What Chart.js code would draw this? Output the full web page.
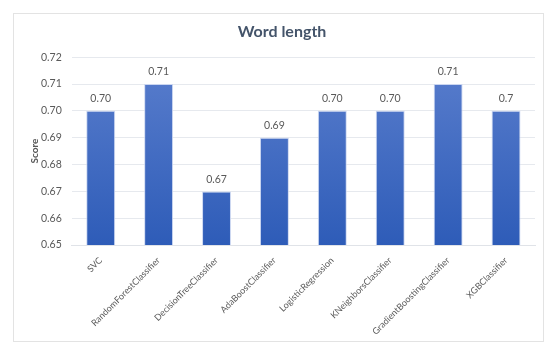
<!DOCTYPE html>
<html>
<head>
<meta charset="utf-8">
<script src="https://cdn.jsdelivr.net/npm/chart.js@4"></script>
<style>
  body { margin: 0; background: #fff; }
  #frame {
    position: absolute; left: 13px; top: 13px;
    width: 529px; height: 327px;
    border: 1px solid #e3e3e3; background: #fff;
  }
</style>
</head>
<body>
<div id="frame"><canvas id="myChart" width="529" height="327"></canvas></div>
<script>
// data
const models = ['SVC', 'RandomForestClassifier', 'DecisionTreeClassifier', 'AdaBoostClassifier',
  'LogisticRegression', 'KNeighborsClassifier', 'GradientBoostingClassifier', 'XGBClassifier'];
const scores = [0.70, 0.71, 0.67, 0.69, 0.70, 0.70, 0.71, 0.70];
const scoreLabels = ['0.70', '0.71', '0.67', '0.69', '0.70', '0.70', '0.71', '0.7'];

const textGray = '#595959';
const fontName = 'Lato, "Open Sans", sans-serif';

// labels above the bars
const barLabels = {
  id: 'barLabels',
  afterDatasetsDraw(chart) {
    const ctx = chart.ctx;
    const meta = chart.getDatasetMeta(0);
    ctx.save();
    ctx.fillStyle = textGray;
    ctx.font = '10.5px ' + fontName;
    ctx.textAlign = 'center';
    ctx.textBaseline = 'middle';
    meta.data.forEach((bar, i) => {
      ctx.fillText(scoreLabels[i], bar.x, bar.y - 12);
    });
    ctx.restore();
  }
};

const ctx = document.getElementById('myChart').getContext('2d');

const myChart = new Chart(ctx, {
  type: 'bar',
  data: {
    labels: models,
    datasets: [{
      label: 'Score',
      data: scores,
      backgroundColor: function(context) {
        const area = context.chart.chartArea;
        if (!area) return '#4472c4';
        const g = context.chart.ctx.createLinearGradient(0, area.top, 0, area.bottom);
        g.addColorStop(0, '#5a7ecd');
        g.addColorStop(1, '#2e5cb8');
        return g;
      },
      borderColor: 'rgba(200,212,240,0.9)',
      borderWidth: 1,
      categoryPercentage: 1,
      barPercentage: 0.5
    }]
  },
  plugins: [barLabels],
  options: {
    responsive: false,
    animation: false,
    layout: { padding: { top: 6, right: 8, left: 15, bottom: 2 } },
    plugins: {
      legend: { display: false },
      tooltip: { enabled: false },
      title: {
        display: true,
        text: 'Word length',
        color: '#44546a',
        font: { family: fontName, size: 16, weight: 'bold' },
        padding: { top: 2, bottom: 16 }
      }
    },
    scales: {
      y: {
        min: 0.65,
        max: 0.72,
        ticks: {
          stepSize: 0.01,
          color: textGray,
          font: { family: fontName, size: 10.5 },
          padding: 10,
          callback: v => v.toFixed(2)
        },
        grid: { color: '#e6e9ee', drawTicks: false },
        border: { display: false },
        title: {
          display: true,
          text: 'Score',
          color: textGray,
          font: { family: fontName, size: 10, weight: 'bold' },
          padding: { top: 0, bottom: -10 }
        }
      },
      x: {
        ticks: {
          color: textGray,
          font: { family: fontName, size: 9 },
          minRotation: 45,
          maxRotation: 45,
          padding: 2
        },
        grid: { display: false },
        border: { color: '#e0e3e8' }
      }
    }
  }
});
</script>
</body>
</html>
